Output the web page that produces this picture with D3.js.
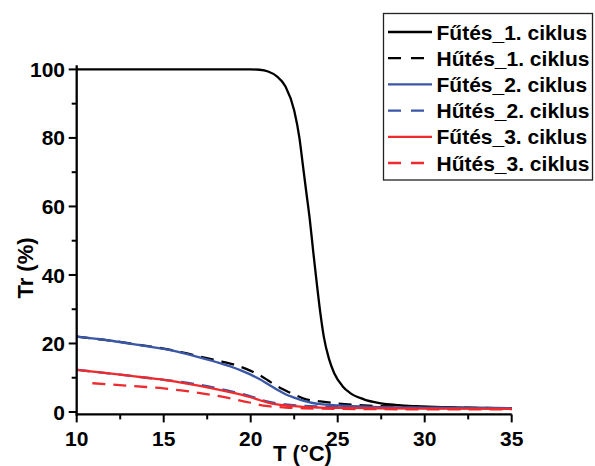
<!DOCTYPE html>
<html>
<head>
<meta charset="utf-8">
<script src="https://cdn.jsdelivr.net/npm/d3@7"></script>
<style>
  html, body { margin: 0; padding: 0; background: #fff; }
  svg { display: block; font-family: Arial, "Liberation Sans", sans-serif; }
</style>
</head>
<body>
<svg id="chart" width="595" height="466"></svg>
<script>
// ---- Data ----
const xTicks = [10, 15, 20, 25, 30, 35];
const yTicks = [0, 20, 40, 60, 80, 100];
const xMinorTicks = [12.5, 17.5, 22.5, 27.5, 32.5];
const yMinorTicks = [10, 30, 50, 70, 90];

const seriesNames = ["Fűtés_1. ciklus", "Hűtés_1. ciklus", "Fűtés_2. ciklus", "Hűtés_2. ciklus", "Fűtés_3. ciklus", "Hűtés_3. ciklus"];
const seriesColors = ["#000000", "#000000", "#3a57a7", "#3a57a7", "#ee2a2f", "#ee2a2f"];
const seriesDashed = [false, true, false, true, false, true];

const heat1T = [10, 15, 20, 20.5, 21, 21.5, 22, 22.5, 22.8, 23, 23.2, 23.4, 23.6, 23.8, 24, 24.2, 24.5, 24.8, 25.3, 25.7, 26.5, 27.4, 28.5, 29.5, 31, 33, 35];
const heat1V = [100, 100, 100, 99.9, 99.4, 98, 95, 88, 80, 72, 64, 56, 46.5, 37.5, 29, 22, 15.5, 11.3, 7.4, 5.6, 3.7, 2.6, 2.0, 1.7, 1.4, 1.2, 1.1];

const cool1T = [10, 12, 14, 15, 16, 17, 18, 19, 20, 20.5, 21, 21.5, 22, 22.5, 23, 23.5, 24, 25, 26, 28, 30, 35];
const cool1V = [22.0, 20.8, 19.3, 18.5, 17.5, 16.3, 15.1, 13.9, 12.0, 10.8, 9.2, 7.6, 6.3, 5.1, 4.0, 3.4, 3.1, 2.5, 2.1, 1.6, 1.4, 1.1];

const heat2T = [10, 12, 14, 15, 16, 17, 18, 19, 19.5, 20, 20.5, 21, 21.5, 22, 22.5, 23, 23.5, 24, 25, 27, 30, 35];
const heat2V = [22.0, 20.8, 19.2, 18.4, 17.3, 16.0, 14.6, 13.0, 12.0, 10.9, 9.6, 8.1, 6.6, 5.2, 4.2, 3.3, 2.7, 2.3, 1.9, 1.5, 1.3, 1.1];

const cool2T = [10, 12, 14, 16, 17, 18, 19, 20, 21, 22, 23, 24, 25, 27, 30, 35];
const cool2V = [12.3, 11.2, 10.0, 8.8, 8.0, 7.0, 5.9, 4.6, 3.0, 2.2, 1.8, 1.6, 1.5, 1.3, 1.2, 1.1];

const heat3T = [10, 12, 14, 15, 16, 17, 18, 19, 19.5, 20, 20.5, 21, 21.5, 22, 22.5, 23, 24, 25, 27, 30, 35];
const heat3V = [12.3, 11.2, 10.0, 9.4, 8.6, 7.7, 6.7, 5.6, 5.0, 4.3, 3.5, 2.7, 2.2, 1.9, 1.7, 1.5, 1.3, 1.2, 1.1, 1.0, 0.9];

const cool3T = [10.9, 12, 14, 15, 16, 17, 18, 19, 20, 20.5, 21, 22, 23, 25, 30, 35];
const cool3V = [8.4, 8.0, 7.3, 6.9, 6.3, 5.6, 4.8, 3.8, 2.7, 2.1, 1.7, 1.3, 1.1, 0.9, 0.8, 0.8];

const seriesT = [heat1T, cool1T, heat2T, cool2T, heat3T, cool3T];
const seriesV = [heat1V, cool1V, heat2V, cool2V, heat3V, cool3V];

// ---- Layout ----
const svg = d3.select("#chart");
const x = d3.scaleLinear().domain([10, 35]).range([76.7, 511.7]);
const y = d3.scaleLinear().domain([-0.7, 101.2]).range([414.4, 65.3]);
const fontSize = 21;

const line = d3.line().x(d => x(d[0])).y(d => y(d[1])).curve(d3.curveMonotoneX);
seriesT.forEach((ts, i) => {
  const pts = ts.map((t, k) => [t, seriesV[i][k]]);
  svg.append("path")
    .attr("d", line(pts))
    .attr("fill", "none")
    .attr("stroke", seriesColors[i])
    .attr("stroke-width", 2.3)
    .attr("stroke-dasharray", seriesDashed[i] ? "13,8" : null);
});

// Axes
const axisColor = "#000";
const axisG = svg.append("g");
axisG.append("line")
  .attr("x1", x(10) - 1).attr("x2", x(35))
  .attr("y1", y(-0.7)).attr("y2", y(-0.7))
  .attr("stroke", axisColor).attr("stroke-width", 2.3);
axisG.append("line")
  .attr("x1", x(10)).attr("x2", x(10))
  .attr("y1", y(-0.7) + 1).attr("y2", y(101.2))
  .attr("stroke", axisColor).attr("stroke-width", 2.3);

xTicks.forEach(t => {
  axisG.append("line").attr("x1", x(t)).attr("x2", x(t))
    .attr("y1", y(-0.7)).attr("y2", y(-0.7) + 8)
    .attr("stroke", axisColor).attr("stroke-width", 2);
  axisG.append("text").attr("x", x(t)).attr("y", 445.5)
    .attr("text-anchor", "middle").attr("font-size", fontSize).attr("font-weight", "bold")
    .text(t);
});
xMinorTicks.forEach(t => {
  axisG.append("line").attr("x1", x(t)).attr("x2", x(t))
    .attr("y1", y(-0.7)).attr("y2", y(-0.7) + 5)
    .attr("stroke", axisColor).attr("stroke-width", 2);
});
yTicks.forEach(v => {
  axisG.append("line").attr("x1", x(10) - 8).attr("x2", x(10))
    .attr("y1", y(v)).attr("y2", y(v))
    .attr("stroke", axisColor).attr("stroke-width", 2);
  axisG.append("text").attr("x", 65).attr("y", y(v)).attr("dy", "0.36em")
    .attr("text-anchor", "end").attr("font-size", fontSize).attr("font-weight", "bold")
    .text(v);
});
yMinorTicks.forEach(v => {
  axisG.append("line").attr("x1", x(10) - 5).attr("x2", x(10))
    .attr("y1", y(v)).attr("y2", y(v))
    .attr("stroke", axisColor).attr("stroke-width", 2);
});

// Axis titles
svg.append("text").attr("x", 302.5).attr("y", 461)
  .attr("text-anchor", "middle").attr("font-size", 22).attr("font-weight", "bold")
  .text("T (°C)");
svg.append("text")
  .attr("transform", "translate(33,268) rotate(-90)")
  .attr("text-anchor", "middle").attr("font-size", 22).attr("font-weight", "bold")
  .text("Tr (%)");

// Legend
const lg = svg.append("g");
lg.append("rect").attr("x", 383.5).attr("y", 13.5).attr("width", 209).attr("height", 166.5)
  .attr("fill", "#fff").attr("stroke", "#222").attr("stroke-width", 1.3);
const rowY = d3.scaleLinear().domain([0, 5]).range([32, 163]);
seriesNames.forEach((name, i) => {
  const yy = rowY(i);
  lg.append("line").attr("x1", 388).attr("x2", 432).attr("y1", yy).attr("y2", yy)
    .attr("stroke", seriesColors[i]).attr("stroke-width", 2.3)
    .attr("stroke-dasharray", seriesDashed[i] ? "13,10" : null);
  lg.append("text").attr("x", 436.5).attr("y", yy).attr("dy", "0.36em")
    .attr("font-size", fontSize).attr("font-weight", "bold")
    .text(name);
});
</script>
</body>
</html>
